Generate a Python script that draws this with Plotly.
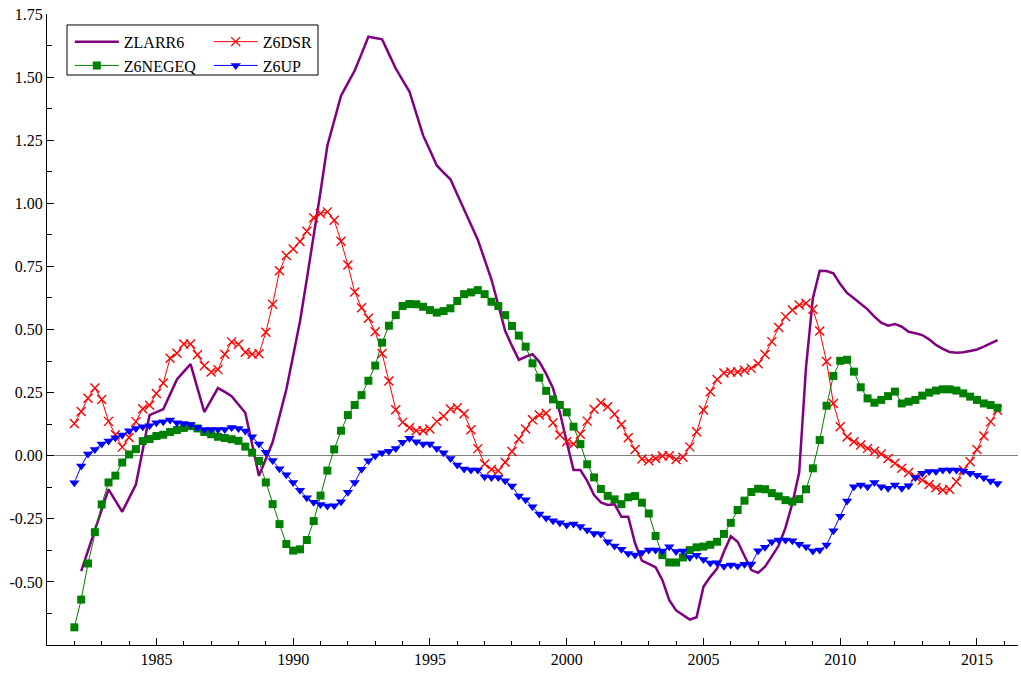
import plotly.graph_objects as go

# ---------------- data (quarterly, 1982Q1 .. 2015Q4) ----------------
start_year = 1982.0
n_quarters = 136
quarters = [start_year + i * 0.25 for i in range(n_quarters)]
quarters_zlarr6 = quarters[1:]  # ZLARR6 starts one quarter later

zlarr6 = [
    -0.457, -0.376, -0.295, -0.214, -0.133, -0.178, -0.222, -0.168, -0.114, 0.023,
    0.161, 0.173, 0.184, 0.243, 0.302, 0.333, 0.363, 0.268, 0.173, 0.220,
    0.268, 0.253, 0.236, 0.203, 0.170, 0.045, -0.080, -0.013, 0.054, 0.157,
    0.262, 0.397, 0.533, 0.700, 0.864, 1.046, 1.228, 1.327, 1.426, 1.476,
    1.526, 1.592, 1.660, 1.655, 1.650, 1.592, 1.534, 1.488, 1.443, 1.356,
    1.269, 1.210, 1.150, 1.122, 1.095, 1.035, 0.975, 0.915, 0.856, 0.777,
    0.698, 0.597, 0.495, 0.435, 0.380, 0.392, 0.402, 0.372, 0.324, 0.267,
    0.172, 0.055, -0.057, -0.057, -0.100, -0.156, -0.185, -0.195, -0.192, -0.242,
    -0.242, -0.347, -0.416, -0.429, -0.442, -0.493, -0.572, -0.613, -0.631, -0.649,
    -0.640, -0.519, -0.480, -0.447, -0.381, -0.319, -0.341, -0.400, -0.453, -0.464,
    -0.440, -0.399, -0.356, -0.285, -0.189, -0.067, 0.350, 0.624, 0.733, 0.732,
    0.723, 0.680, 0.645, 0.624, 0.601, 0.580, 0.551, 0.527, 0.515, 0.522,
    0.511, 0.491, 0.485, 0.478, 0.461, 0.439, 0.423, 0.411, 0.408, 0.410,
    0.415, 0.421, 0.432, 0.445, 0.458,
]

z6dsr = [
    0.128, 0.175, 0.228, 0.268, 0.223, 0.136, 0.083, 0.034, 0.072, 0.135,
    0.186, 0.200, 0.246, 0.288, 0.386, 0.406, 0.443, 0.443, 0.400, 0.356,
    0.332, 0.341, 0.402, 0.451, 0.442, 0.410, 0.402, 0.404, 0.489, 0.600,
    0.733, 0.793, 0.819, 0.849, 0.889, 0.943, 0.960, 0.966, 0.933, 0.850,
    0.756, 0.649, 0.586, 0.545, 0.491, 0.405, 0.296, 0.182, 0.132, 0.111,
    0.099, 0.099, 0.106, 0.136, 0.156, 0.185, 0.190, 0.166, 0.103, 0.028,
    -0.033, -0.055, -0.060, -0.026, 0.017, 0.066, 0.106, 0.142, 0.161, 0.168,
    0.131, 0.082, 0.055, 0.046, 0.085, 0.137, 0.184, 0.210, 0.194, 0.164,
    0.124, 0.071, 0.025, -0.013, -0.020, -0.011, -0.001, 0.000, -0.015, -0.006,
    0.035, 0.095, 0.181, 0.253, 0.302, 0.328, 0.332, 0.332, 0.339, 0.346,
    0.364, 0.401, 0.452, 0.508, 0.551, 0.577, 0.597, 0.604, 0.580, 0.494,
    0.373, 0.207, 0.115, 0.074, 0.055, 0.042, 0.029, 0.018, 0.007, -0.011,
    -0.030, -0.050, -0.067, -0.083, -0.096, -0.114, -0.127, -0.136, -0.134, -0.103,
    -0.057, -0.024, 0.025, 0.078, 0.135, 0.180,
]

z6negeq = [
    -0.680, -0.570, -0.427, -0.303, -0.193, -0.106, -0.079, -0.027, 0.005, 0.026,
    0.058, 0.066, 0.078, 0.083, 0.094, 0.102, 0.110, 0.117, 0.108, 0.094,
    0.085, 0.075, 0.070, 0.065, 0.059, 0.036, 0.012, -0.021, -0.106, -0.192,
    -0.271, -0.350, -0.376, -0.371, -0.334, -0.259, -0.158, -0.059, 0.025, 0.099,
    0.161, 0.201, 0.240, 0.297, 0.357, 0.448, 0.515, 0.557, 0.593, 0.601,
    0.600, 0.590, 0.577, 0.567, 0.573, 0.584, 0.613, 0.640, 0.647, 0.656,
    0.640, 0.610, 0.593, 0.557, 0.514, 0.476, 0.432, 0.366, 0.309, 0.257,
    0.223, 0.201, 0.172, 0.115, 0.046, -0.034, -0.086, -0.132, -0.159, -0.173,
    -0.192, -0.165, -0.160, -0.186, -0.229, -0.318, -0.394, -0.423, -0.423, -0.403,
    -0.374, -0.363, -0.360, -0.353, -0.341, -0.310, -0.266, -0.215, -0.178, -0.144,
    -0.131, -0.133, -0.148, -0.161, -0.176, -0.182, -0.172, -0.133, -0.050, 0.062,
    0.198, 0.316, 0.376, 0.380, 0.333, 0.271, 0.227, 0.210, 0.221, 0.236,
    0.254, 0.207, 0.214, 0.221, 0.238, 0.250, 0.258, 0.263, 0.263, 0.258,
    0.247, 0.234, 0.221, 0.207, 0.201, 0.190,
]

z6up = [
    -0.107, -0.041, 0.007, 0.025, 0.046, 0.058, 0.071, 0.082, 0.099, 0.108,
    0.115, 0.119, 0.131, 0.135, 0.141, 0.131, 0.128, 0.124, 0.112, 0.104,
    0.104, 0.104, 0.104, 0.112, 0.108, 0.098, 0.075, 0.046, 0.014, -0.019,
    -0.052, -0.075, -0.106, -0.137, -0.167, -0.184, -0.193, -0.199, -0.198, -0.182,
    -0.145, -0.106, -0.054, -0.020, 0.000, 0.012, 0.018, 0.029, 0.053, 0.069,
    0.055, 0.046, 0.046, 0.029, 0.012, -0.011, -0.037, -0.053, -0.057, -0.057,
    -0.083, -0.086, -0.086, -0.099, -0.120, -0.160, -0.175, -0.202, -0.231, -0.247,
    -0.258, -0.266, -0.275, -0.271, -0.281, -0.294, -0.308, -0.310, -0.341, -0.358,
    -0.371, -0.387, -0.393, -0.384, -0.374, -0.374, -0.378, -0.361, -0.380, -0.378,
    -0.403, -0.394, -0.411, -0.425, -0.424, -0.438, -0.433, -0.437, -0.430, -0.429,
    -0.377, -0.363, -0.341, -0.334, -0.334, -0.337, -0.351, -0.361, -0.378, -0.374,
    -0.354, -0.297, -0.240, -0.179, -0.123, -0.116, -0.123, -0.106, -0.123, -0.129,
    -0.116, -0.129, -0.119, -0.086, -0.070, -0.063, -0.063, -0.057, -0.057, -0.057,
    -0.061, -0.070, -0.077, -0.087, -0.100, -0.110,
]

y_tick_vals = [-0.5, -0.25, 0.0, 0.25, 0.5, 0.75, 1.0, 1.25, 1.5, 1.75]
y_tick_text = ["-0.50", "-0.25", "0.00", "0.25", "0.50", "0.75", "1.00", "1.25", "1.50", "1.75"]
x_tick_vals = [1985, 1990, 1995, 2000, 2005, 2010, 2015]
x_tick_text = ["1985", "1990", "1995", "2000", "2005", "2010", "2015"]

FONT = "Liberation Serif"

fig = go.Figure()

fig.add_trace(go.Scatter(
    x=quarters_zlarr6, y=zlarr6, name="ZLARR6", mode="lines",
    line=dict(color="#800080", width=2.5), legend="legend", legendrank=1,
))
fig.add_trace(go.Scatter(
    x=quarters, y=z6dsr, name="Z6DSR", mode="lines+markers",
    line=dict(color="#ff0000", width=1),
    marker=dict(symbol="x-thin", size=9, color="#ff0000", line=dict(color="#ff0000", width=1.4)),
    legend="legend2", legendrank=1,
))
fig.add_trace(go.Scatter(
    x=quarters, y=z6negeq, name="Z6NEGEQ", mode="lines+markers",
    line=dict(color="#008000", width=1),
    marker=dict(symbol="square", size=8, color="#008000"),
    legend="legend", legendrank=2,
))
fig.add_trace(go.Scatter(
    x=quarters, y=z6up, name="Z6UP", mode="lines+markers",
    line=dict(color="#0000ff", width=1),
    marker=dict(symbol="triangle-down", size=9, color="#0000ff"),
    legend="legend2", legendrank=2,
))

legend_common = dict(
    xref="paper", yref="paper", xanchor="left", yanchor="top",
    bgcolor="rgba(0,0,0,0)", borderwidth=0,
    font=dict(family=FONT, size=16, color="black"),
    tracegroupgap=0, itemwidth=44,
)

fig.update_layout(
    width=1021, height=673,
    margin=dict(l=47, r=3, t=14, b=28),
    paper_bgcolor="white", plot_bgcolor="white",
    font=dict(family=FONT, size=16, color="black"),
    showlegend=True,
    legend=dict(x=0.0235, y=0.983, **legend_common),
    legend2=dict(x=0.1665, y=0.983, **legend_common),
    xaxis=dict(
        range=[1981.0, 2016.5],
        tickmode="array", tickvals=x_tick_vals, ticktext=x_tick_text,
        ticks="inside", ticklen=7, tickwidth=1, tickcolor="black",
        minor=dict(tickmode="linear", tick0=1981, dtick=1, ticks="inside",
                   ticklen=4, tickwidth=1, tickcolor="black"),
        showline=True, linecolor="black", linewidth=1,
        showgrid=False, zeroline=False,
        tickfont=dict(family=FONT, size=16, color="black"),
    ),
    yaxis=dict(
        range=[-0.75, 1.75],
        tickmode="array", tickvals=y_tick_vals, ticktext=y_tick_text,
        ticks="inside", ticklen=7, tickwidth=1, tickcolor="black",
        minor=dict(tickmode="linear", tick0=0, dtick=0.125, ticks="inside",
                   ticklen=5, tickwidth=1, tickcolor="black"),
        showline=True, linecolor="black", linewidth=1,
        showgrid=False,
        zeroline=True, zerolinecolor="#808080", zerolinewidth=1,
        tickfont=dict(family=FONT, size=16, color="black"),
    ),
    shapes=[dict(
        type="rect", xref="paper", yref="paper",
        x0=0.0206, x1=0.2791, y0=0.9033, y1=0.9826,
        line=dict(color="black", width=1), fillcolor="rgba(0,0,0,0)", layer="above",
    )],
)

fig.write_html("out.html")
